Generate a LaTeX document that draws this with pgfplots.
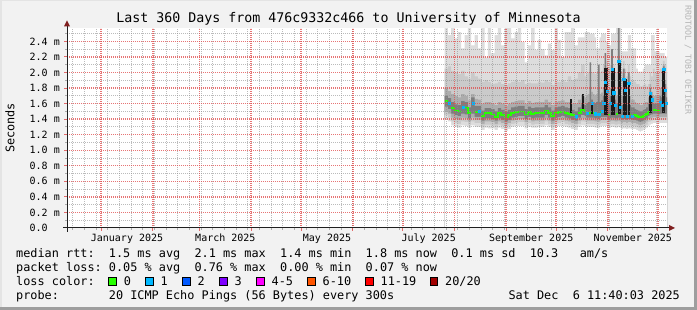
\documentclass[border=0pt]{standalone}
\usepackage{fontspec}
\setmainfont{DejaVu Sans Mono}
\usepackage{pgfplots}
\pgfplotsset{compat=1.18}
\usepackage{pgfplotstable}
\frenchspacing
\definecolor{bgc}{HTML}{F2F2F2}
\definecolor{shadeA}{HTML}{E4E4E4}
\definecolor{shadeB}{HTML}{9E9E9E}
\definecolor{gridc}{HTML}{8F8F8F}
\definecolor{mgridc}{HTML}{E04848}
\definecolor{arrowc}{HTML}{801F1F}
\definecolor{axisc}{HTML}{1F1F1F}
\definecolor{wmc}{HTML}{B5B5B5}
\definecolor{s1}{HTML}{DDDDDD}
\definecolor{s2}{HTML}{CACACA}
\definecolor{s3}{HTML}{ACACAC}
\definecolor{s4}{HTML}{7E7E7E}
\definecolor{spk}{HTML}{1A1A1A}
\definecolor{l0}{HTML}{26FF00}
\definecolor{l1}{HTML}{00B8FF}
\definecolor{l2}{HTML}{0059FF}
\definecolor{l3}{HTML}{7E00FF}
\definecolor{l4}{HTML}{FF00FF}
\definecolor{l6}{HTML}{FF5500}
\definecolor{l11}{HTML}{FF0000}
\definecolor{l20}{HTML}{A10000}
\tikzset{
  gline/.style={draw=gridc, draw opacity=0.6, line width=1pt, dash pattern=on 1pt off 1pt},
  mgline/.style={draw=mgridc, draw opacity=0.75, line width=1.4pt, dash pattern=on 1.2pt off 0.8pt},
  gtick/.style={draw=gridc, draw opacity=0.7, line width=1pt},
  mgtick/.style={draw=mgridc, draw opacity=0.8, line width=1pt},
}
\newcommand{\lf}{\fontsize{11.85}{14}\selectfont}
\newcommand{\tf}{\fontsize{13.3}{16}\selectfont}
\newcommand{\af}{\fontsize{10}{12}\selectfont}
\newcommand{\wf}{\fontsize{8.3}{10}\selectfont}

% smoke bands: day, tops of four shades, bottoms of four shades (ms)
\pgfplotstableread{
d t1 t2 t3 t4 b4 b3 b2 b1
206 2.57 2.05 1.80 1.70 1.56 1.50 1.45 1.40
208 2.48 2.08 1.76 1.67 1.53 1.47 1.42 1.37
210 2.57 2.02 1.72 1.62 1.47 1.42 1.37 1.32
212 2.44 2.00 1.70 1.59 1.45 1.40 1.35 1.30
214 2.52 1.98 1.68 1.58 1.44 1.39 1.34 1.29
216 2.31 2.02 1.72 1.63 1.47 1.42 1.37 1.32
218 2.48 1.95 1.70 1.62 1.46 1.41 1.36 1.31
220 2.57 1.92 1.64 1.55 1.41 1.37 1.33 1.29
222 2.35 2.00 1.72 1.68 1.47 1.42 1.37 1.32
224 2.48 1.95 1.66 1.57 1.43 1.39 1.35 1.30
226 2.31 1.92 1.65 1.57 1.43 1.39 1.35 1.30
228 2.57 1.88 1.60 1.51 1.38 1.34 1.30 1.26
230 2.19 1.90 1.62 1.54 1.41 1.37 1.33 1.29
232 2.57 1.88 1.62 1.54 1.41 1.37 1.33 1.28
234 2.25 1.85 1.60 1.53 1.40 1.36 1.32 1.28
236 2.48 1.86 1.58 1.50 1.38 1.34 1.30 1.26
238 2.57 1.88 1.62 1.54 1.41 1.37 1.33 1.29
240 2.35 1.85 1.60 1.52 1.39 1.35 1.31 1.27
242 2.57 1.84 1.57 1.49 1.37 1.33 1.29 1.25
244 2.57 1.86 1.60 1.52 1.39 1.35 1.31 1.27
246 2.44 1.88 1.62 1.55 1.42 1.38 1.34 1.30
248 2.52 1.90 1.63 1.56 1.43 1.39 1.35 1.31
250 2.57 1.88 1.64 1.57 1.44 1.40 1.36 1.31
252 2.39 1.90 1.64 1.57 1.44 1.40 1.36 1.31
254 2.13 1.85 1.60 1.53 1.40 1.36 1.32 1.28
256 2.35 1.87 1.63 1.56 1.43 1.39 1.35 1.30
258 2.57 1.86 1.61 1.54 1.41 1.37 1.33 1.29
260 2.29 1.86 1.62 1.55 1.42 1.38 1.34 1.29
262 2.42 1.88 1.62 1.55 1.42 1.38 1.34 1.30
264 2.30 1.87 1.62 1.55 1.42 1.38 1.34 1.30
266 2.22 1.90 1.65 1.58 1.45 1.41 1.37 1.32
268 2.37 1.88 1.62 1.55 1.42 1.38 1.34 1.30
270 2.29 1.84 1.58 1.51 1.38 1.34 1.30 1.26
272 2.57 1.88 1.62 1.55 1.42 1.38 1.34 1.30
274 2.42 1.88 1.63 1.56 1.43 1.39 1.35 1.31
276 2.19 1.90 1.64 1.57 1.44 1.40 1.36 1.31
278 2.52 1.88 1.62 1.55 1.42 1.38 1.34 1.30
280 2.52 1.95 1.62 1.54 1.41 1.37 1.33 1.29
282 2.57 1.90 1.60 1.52 1.39 1.35 1.31 1.27
284 2.35 1.92 1.60 1.50 1.38 1.34 1.30 1.26
286 2.45 2.00 1.65 1.55 1.42 1.38 1.34 1.30
288 2.45 2.10 1.70 1.59 1.45 1.41 1.37 1.32
290 2.52 1.95 1.68 1.58 1.44 1.40 1.36 1.31
291 2.52 1.98 1.70 1.60 1.42 1.38 1.34 1.30
292 2.52 2.00 1.72 1.62 1.42 1.38 1.34 1.30
293 2.50 2.05 1.80 2.13 1.42 1.38 1.34 1.30
294 2.50 2.00 1.75 1.65 1.42 1.38 1.34 1.30
295 2.50 2.00 1.72 1.62 1.42 1.38 1.34 1.30
296 2.45 1.98 1.70 1.60 1.41 1.37 1.33 1.29
297 2.31 2.00 1.72 1.62 1.41 1.37 1.33 1.29
298 2.31 2.05 1.80 2.10 1.40 1.36 1.32 1.28
299 2.45 2.00 1.72 1.62 1.42 1.38 1.34 1.30
300 2.50 2.02 1.74 1.64 1.43 1.39 1.35 1.31
301 2.50 2.10 1.80 1.70 1.43 1.39 1.35 1.31
302 2.50 2.25 2.10 2.25 1.43 1.39 1.35 1.31
303 2.40 2.15 1.95 1.90 1.43 1.39 1.35 1.31
304 2.35 2.05 1.75 1.60 1.40 1.36 1.32 1.28
305 2.35 2.10 1.80 1.70 1.41 1.37 1.33 1.29
306 2.50 2.25 2.15 2.30 1.42 1.38 1.34 1.30
307 2.50 2.10 1.90 1.85 1.42 1.38 1.34 1.30
308 2.50 2.00 1.75 1.65 1.41 1.37 1.33 1.29
309 2.57 2.00 1.70 1.60 1.41 1.37 1.33 1.29
310 2.57 2.40 2.30 2.57 1.42 1.38 1.34 1.30
311 2.57 2.10 1.80 1.70 1.41 1.37 1.33 1.29
312 2.27 2.00 1.70 1.58 1.39 1.35 1.31 1.27
313 2.27 2.15 2.00 2.05 1.40 1.36 1.32 1.28
314 2.27 2.05 1.90 1.85 1.40 1.36 1.32 1.28
315 2.27 1.95 1.70 1.58 1.39 1.35 1.31 1.27
316 2.48 2.10 1.98 2.00 1.40 1.36 1.32 1.28
317 2.48 1.95 1.70 1.58 1.40 1.36 1.32 1.28
318 2.31 1.90 1.65 1.55 1.39 1.35 1.31 1.27
319 2.31 1.90 1.65 1.55 1.39 1.35 1.31 1.27
320 2.31 1.88 1.62 1.53 1.39 1.35 1.31 1.27
321 2.05 1.85 1.60 1.52 1.38 1.34 1.30 1.26
322 2.01 1.85 1.60 1.51 1.37 1.33 1.29 1.25
323 2.01 1.82 1.58 1.50 1.36 1.32 1.28 1.24
324 2.01 1.82 1.58 1.50 1.37 1.33 1.29 1.25
325 2.05 1.84 1.60 1.52 1.38 1.34 1.30 1.26
326 2.10 1.85 1.62 1.53 1.39 1.35 1.31 1.27
327 2.10 1.82 1.62 1.55 1.41 1.37 1.33 1.29
328 2.10 1.85 1.68 1.60 1.44 1.40 1.36 1.31
329 2.10 2.00 1.85 1.80 1.45 1.41 1.37 1.33
330 2.48 1.95 1.75 1.70 1.46 1.42 1.38 1.34
331 2.48 2.05 1.70 1.60 1.47 1.43 1.39 1.35
332 2.27 2.00 1.70 1.60 1.47 1.43 1.39 1.35
333 2.27 2.00 1.70 1.60 1.47 1.43 1.39 1.35
334 2.27 2.00 1.70 1.60 1.46 1.42 1.38 1.34
335 2.25 2.05 1.80 1.70 1.47 1.43 1.39 1.35
336 2.25 2.05 1.78 1.68 1.47 1.43 1.39 1.35
337 2.25 2.15 2.10 2.08 1.47 1.43 1.39 1.35
338 2.20 2.10 1.90 1.85 1.47 1.43 1.39 1.35
339 2.20 2.00 1.75 1.68 1.47 1.43 1.39 1.35
339.5 2.20 2.00 1.75 1.68 1.47 1.43 1.39 1.35
}\smoke

% median rtt, loss 0 (green) runs
\pgfplotstableread{
d m
206 1.63
208 1.63
nan nan
210 1.54
212 1.51
214 1.50
216 1.50
nan nan
218 1.55
220 1.475
222 1.475
nan nan
224 1.49
226 1.49
nan nan
228 1.44
230 1.475
232 1.475
234 1.46
236 1.43
238 1.475
240 1.45
242 1.42
244 1.45
246 1.48
248 1.49
250 1.50
252 1.50
254 1.46
256 1.49
258 1.47
260 1.475
262 1.48
264 1.48
266 1.51
268 1.48
270 1.44
272 1.48
274 1.49
276 1.50
278 1.48
280 1.47
282 1.45
284 1.45
nan nan
286 1.48
288 1.52
290 1.50
291 1.50
nan nan
292 1.48
293 1.48
294 1.48
nan nan
295 1.475
296 1.475
nan nan
297 1.47
298 1.47
nan nan
299 1.48
300 1.48
nan nan
304 1.45
305 1.45
nan nan
309 1.47
310 1.47
nan nan
317 1.46
318 1.46
nan nan
319 1.45
320 1.45
321 1.44
322 1.43
323 1.42
324 1.43
325 1.44
326 1.45
327 1.47
328 1.50
329 1.50
nan nan
331 1.52
332 1.52
333 1.52
334 1.51
335 1.51
}\gmed

% median rtt, loss 1 (blue)
\pgfplotstableread{
d m
209 1.60
217 1.555
223 1.60
227 1.50
285 1.43
291.5 1.475
294.5 1.61
296.5 1.47
298.5 1.46
300.5 1.50
301.5 1.61
302.5 1.87
303.5 1.76
305.5 1.61
306.5 2.04
307.5 1.74
308.5 1.58
310.5 2.14
311.5 1.55
312.5 1.44
313.5 1.91
314.5 1.77
315.5 1.44
316.5 1.86
318.5 1.44
329.5 1.73
330.5 1.65
335.5 1.62
336.5 1.58
337.5 2.04
338.5 1.77
339.2 1.60
}\bmed

\begin{document}
\begin{tikzpicture}[x=1pt,y=1pt]
\fill[bgc] (0,0) rectangle (697,310);
\fill[shadeA] (0,308.5) rectangle (697,310);
\fill[shadeA] (0,0) rectangle (1.5,310);
\fill[shadeB] (0,0) rectangle (697,3);
\fill[shadeB] (694,0) rectangle (697,310);
\fill[white] (67,82) rectangle (667,282);
\begin{axis}[
  at={(67pt,82pt)}, anchor=south west,
  scale only axis, width=600pt, height=200pt,
  xmin=-20.51, xmax=339.49, ymin=0, ymax=2.572,
  axis line style={draw=none},
  clip mode=individual,
  xtick=\empty,
  extra x ticks={15.5,74.5,135.5,196.5,258,319},
  extra x tick labels={January 2025,March 2025,May 2025,July 2025,September 2025,November 2025},
  extra x tick style={grid=none, major tick length=0pt,
     xticklabel style={anchor=base, inner sep=0pt, yshift=-13.5pt}},
  ytick={0,0.2,0.4,0.6,0.8,1.0,1.2,1.4,1.6,1.8,2.0,2.2,2.4},
  yticklabels={0.0\hphantom{xx},0.2 m,0.4 m,0.6 m,0.8 m,1.0 m,1.2 m,1.4 m,1.6 m,1.8 m,2.0 m,2.2 m,2.4 m},
  major tick length=0pt, minor tick length=0pt,
  xtick pos=bottom, ytick pos=left,
  ticklabel style={font=\af, text=black},
  yticklabel style={anchor=east, inner sep=0pt, xshift=-7pt},
  unbounded coords=jump,
]
% smoke, upper parts
\addplot[const plot, fill=s1, draw=none] table[x=d, y=t1] {\smoke} \closedcycle;
\addplot[const plot, fill=s2, draw=none] table[x=d, y=t2] {\smoke} \closedcycle;
\addplot[const plot, fill=s3, draw=none] table[x=d, y=t3] {\smoke} \closedcycle;
\addplot[const plot, fill=s4, draw=none] table[x=d, y=t4] {\smoke} \closedcycle;
% smoke, lower parts
\addplot[const plot, fill=s3, draw=none] table[x=d, y=b4] {\smoke} \closedcycle;
\addplot[const plot, fill=s2, draw=none] table[x=d, y=b3] {\smoke} \closedcycle;
\addplot[const plot, fill=s1, draw=none] table[x=d, y=b2] {\smoke} \closedcycle;
\addplot[const plot, fill=white, draw=none] table[x=d, y=b1] {\smoke} \closedcycle;
% dense cores (spikes)
\addplot[fill=spk, draw=none] coordinates {(281,1.46) (281,1.66) (282.2,1.66) (282.2,1.46)};
\addplot[fill=spk, draw=none] coordinates {(288.5,1.50) (288.5,1.72) (289.8,1.72) (289.8,1.50)};
\addplot[fill=spk, draw=none] coordinates {(293.8,1.47) (293.8,1.61) (295.2,1.61) (295.2,1.47)};
\addplot[fill=spk, draw=none] coordinates {(301.8,1.45) (301.8,2.06) (304.2,2.06) (304.2,1.45)};
\addplot[fill=spk, draw=none] coordinates {(305.8,1.45) (305.8,2.06) (308.2,2.06) (308.2,1.45)};
\addplot[fill=spk, draw=none] coordinates {(309.8,1.46) (309.8,2.14) (311.8,2.14) (311.8,1.46)};
\addplot[fill=spk, draw=none] coordinates {(312.8,1.45) (312.8,1.91) (315.2,1.91) (315.2,1.45)};
\addplot[fill=spk, draw=none] coordinates {(315.8,1.45) (315.8,1.86) (317.5,1.86) (317.5,1.45)};
\addplot[fill=spk, draw=none] coordinates {(328.8,1.48) (328.8,1.74) (330.7,1.74) (330.7,1.48)};
\addplot[fill=spk, draw=none] coordinates {(336.5,1.48) (336.5,2.06) (338.4,2.06) (338.4,1.48)};
% median
\addplot[const plot, draw=l0, line width=1.7pt] table[x=d, y=m] {\gmed};
\addplot[only marks, mark=square*, mark size=1.1pt, color=l1, mark options={draw=none}] table[x=d, y=m] {\bmed};
% grid (drawn over the data, as rrdtool does) and its ticks
\pgfplotsinvokeforeach{-17,-10,...,333}{
  \draw[gline] (axis cs:#1,0) -- (axis cs:#1,2.572);
  \draw[gtick] (axis cs:#1,0) -- ++(0pt,-2pt);
}
\pgfplotsinvokeforeach{0.1,0.3,0.5,0.7,0.9,1.1,1.3,1.5,1.7,1.9,2.1,2.3,2.5}{
  \draw[gline] (axis cs:-20.51,#1) -- (axis cs:339.49,#1);
  \draw[gtick] (axis cs:-20.51,#1) -- ++(-2pt,0pt);
}
\pgfplotsinvokeforeach{0,31,59,90,120,151,181,212,243,273,304,334}{
  \draw[mgline] (axis cs:#1,0) -- (axis cs:#1,2.572);
  \draw[mgtick] (axis cs:#1,0) -- ++(0pt,-3pt);
}
\pgfplotsinvokeforeach{0.2,0.4,0.6,0.8,1.0,1.2,1.4,1.6,1.8,2.0,2.2,2.4}{
  \draw[mgline] (axis cs:-20.51,#1) -- (axis cs:339.49,#1);
  \draw[mgtick] (axis cs:-20.51,#1) -- ++(-3pt,0pt);
}
\draw[mgtick] (axis cs:-20.51,0) -- ++(-3pt,0pt);
\end{axis}
% axis lines and arrows
\draw[axisc, line width=1pt] (63,82) -- (670,82);
\fill[arrowc] (675,82) -- (669,85) -- (669,79) -- cycle;
\draw[axisc, line width=1pt] (67,78) -- (67,284);
\fill[arrowc] (67,289.5) -- (64,283.5) -- (70,283.5) -- cycle;
% title, unit, watermark
\node[anchor=base, inner sep=0pt, font=\tf] at (348.5,287) {Last 360 Days from 476c9332c466 to University of Minnesota};
\node[rotate=90, inner sep=0pt, font=\lf] at (10,182) {Seconds};
\node[rotate=-90, inner sep=0pt, font=\wf, text=wmc] at (688,250) {RRDTOOL / TOBI OETIKER};
% legend
\node[anchor=base west, inner sep=0pt, font=\lf] at (16,52) {median rtt:~~1.5 ms avg~~2.1 ms max~~1.4 ms min~~1.8 ms now~~0.1 ms sd~~10.3~~~am/s};
\node[anchor=base west, inner sep=0pt, font=\lf] at (16,38) {packet loss: 0.05 \% avg~~0.76 \% max~~0.00 \% min~~0.07 \% now};
\node[anchor=base west, inner sep=0pt, font=\lf] at (16,24) {loss color:};
\foreach \bx/\lx/\c/\t in {108.5/123.7/l0/0, 145.5/160.5/l1/1, 182.5/197.5/l2/2, 219.5/234.5/l3/3, 256.5/271.5/l4/4-5, 307.5/322.5/l6/6-10, 365.5/380.5/l11/11-19, 430/445/l20/20\slash 20}{
  \filldraw[fill=\c, draw=black, line width=0.9pt] (\bx,24.5) rectangle +(7.6,7.6);
  \node[anchor=base west, inner sep=0pt, font=\lf] at (\lx,24) {\t};
}
\node[anchor=base west, inner sep=0pt, font=\lf] at (16,10) {probe:};
\node[anchor=base west, inner sep=0pt, font=\lf] at (108.7,10) {20 ICMP Echo Pings (56 Bytes) every 300s};
\node[anchor=base east, inner sep=0pt, font=\lf] at (680,10) {Sat Dec~~6 11:40:03 2025};
\pgfresetboundingbox
\path (0,0) rectangle (697,310);
\end{tikzpicture}
\end{document}
